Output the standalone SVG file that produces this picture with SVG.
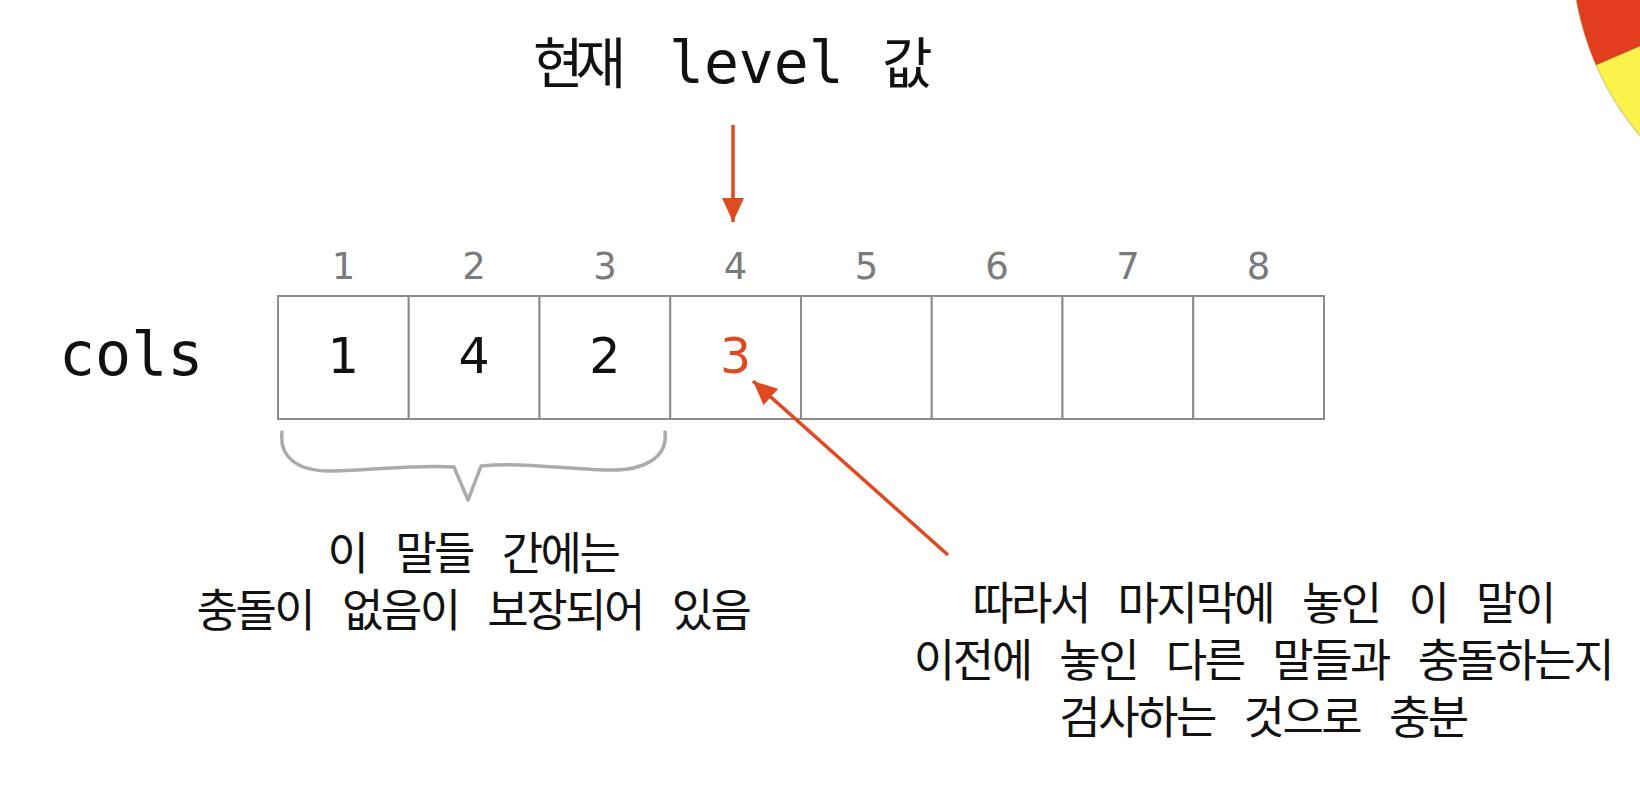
<svg xmlns="http://www.w3.org/2000/svg" width="1640" height="792" viewBox="0 0 1640 792">
  <style>
    .cell { fill: #ffffff; stroke: #8c8c8c; stroke-width: 2; }
    .idx { font-family: "DejaVu Sans", "Liberation Sans", sans-serif; font-size: 37px; fill: #7a7a7a; text-anchor: middle; }
    .val { font-family: "DejaVu Sans", "Liberation Sans", sans-serif; font-size: 49px; fill: #111111; text-anchor: middle; }
    .hot { fill: #e04a22; }
    .ko { font-family: "Noto Sans", "Noto Sans CJK KR", sans-serif; font-size: 45px; letter-spacing: -2.5px; word-spacing: 19.5px; fill: #111111; text-anchor: middle; }
    .kot { font-family: "Noto Sans", "Noto Sans CJK KR", sans-serif; font-size: 55px; letter-spacing: -8px; fill: #111111; }
    .mono { font-family: "DejaVu Sans Mono", "Liberation Mono", monospace; fill: #111111; }
    .arrow { stroke: #e04a22; stroke-width: 3.5; fill: none; marker-end: url(#ah); }
    .brace { stroke: #ababab; stroke-width: 3.5; fill: none; stroke-linejoin: round; stroke-linecap: round; }
  </style>
  <defs>
    <marker id="ah" viewBox="0 0 24 22" markerWidth="24" markerHeight="22" refX="24" refY="11" orient="auto" markerUnits="userSpaceOnUse">
      <path d="M0,0 L24,11 L0,22 Z" fill="#e04a22"/>
    </marker>
    <clipPath id="discClip">
      <circle cx="1860" cy="-50" r="288"/>
    </clipPath>
  </defs>

  <rect x="0" y="0" width="1640" height="792" fill="#ffffff"/>

  <!-- corner decoration (partial disc) -->
  <g id="corner-disc" clip-path="url(#discClip)">
    <rect x="1500" y="-60" width="160" height="260" fill="#fdf24c"/>
    <polygon points="1500,106 1640,46 1640,-60 1500,-60" fill="#e23d1f"/>
    <line x1="1500" y1="106" x2="1640" y2="46" stroke="#8a6a20" stroke-opacity="0.45" stroke-width="1.5"/>
  </g>
  <circle cx="1860" cy="-50" r="288" fill="none" stroke="#9a8a50" stroke-opacity="0.35" stroke-width="1.5"/>

  <!-- title -->
  <g id="title">
    <text y="83"><tspan class="kot" x="533">현재</tspan><tspan class="mono" x="669" font-size="58">level</tspan><tspan class="kot" x="882">값</tspan></text>
  </g>

  <!-- row label -->
  <g id="label-cols">
    <text class="mono" x="59" y="375" font-size="60">cols</text>
  </g>

  <!-- array cells -->
  <g id="cell-1">
    <rect class="cell" x="278" y="296" width="130.75" height="123"/>
    <text class="idx" x="343.4" y="279">1</text>
    <text class="val" x="343.4" y="373">1</text>
  </g>
  <g id="cell-2">
    <rect class="cell" x="408.75" y="296" width="130.75" height="123"/>
    <text class="idx" x="474.1" y="279">2</text>
    <text class="val" x="474.1" y="373">4</text>
  </g>
  <g id="cell-3">
    <rect class="cell" x="539.5" y="296" width="130.75" height="123"/>
    <text class="idx" x="604.9" y="279">3</text>
    <text class="val" x="604.9" y="373">2</text>
  </g>
  <g id="cell-4">
    <rect class="cell" x="670.25" y="296" width="130.75" height="123"/>
    <text class="idx" x="735.6" y="279">4</text>
    <text class="val hot" x="735.6" y="373">3</text>
  </g>
  <g id="cell-5">
    <rect class="cell" x="801" y="296" width="130.75" height="123"/>
    <text class="idx" x="866.4" y="279">5</text>
  </g>
  <g id="cell-6">
    <rect class="cell" x="931.75" y="296" width="130.75" height="123"/>
    <text class="idx" x="997.1" y="279">6</text>
  </g>
  <g id="cell-7">
    <rect class="cell" x="1062.5" y="296" width="130.75" height="123"/>
    <text class="idx" x="1127.9" y="279">7</text>
  </g>
  <g id="cell-8">
    <rect class="cell" x="1193.25" y="296" width="130.75" height="123"/>
    <text class="idx" x="1258.6" y="279">8</text>
  </g>

  <!-- brace -->
  <g id="brace">
    <path class="brace" d="M282,432 C279,456 296,471 330,471 C372,471 412,464 454,467 L468,500 L481,466 C520,462 562,469 608,470 C645,471 668,457 665,432"/>
  </g>

  <!-- left note -->
  <g id="note-left">
    <text class="ko" x="473" y="570">이 말들 간에는</text>
    <text class="ko" x="473" y="627">충돌이 없음이 보장되어 있음</text>
  </g>

  <!-- right note -->
  <g id="note-right">
    <text class="ko" x="1263" y="620">따라서 마지막에 놓인 이 말이</text>
    <text class="ko" x="1263" y="677">이전에 놓인 다른 말들과 충돌하는지</text>
    <text class="ko" x="1263" y="734">검사하는 것으로 충분</text>
  </g>

  <!-- connectors -->
  <g id="connectors">
    <line class="arrow" x1="733" y1="125" x2="733" y2="222"/>
    <line class="arrow" x1="948" y1="555" x2="753" y2="381"/>
  </g>
</svg>
